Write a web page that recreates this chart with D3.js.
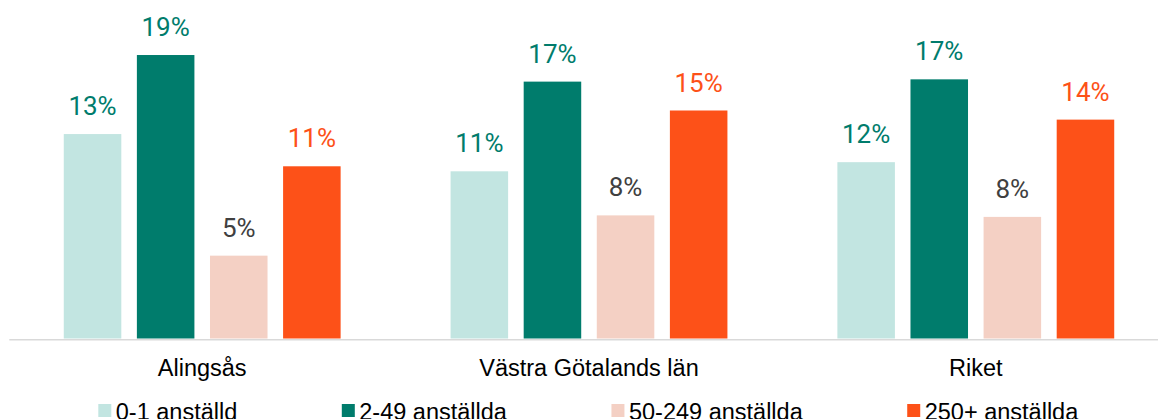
<!DOCTYPE html>
<html>
<head>
<meta charset="utf-8">
<script src="https://cdn.jsdelivr.net/npm/d3@7"></script>
<style>
  body { margin: 0; background: #fff; }
  svg { display: block; }
  .legend text { font-family: "Liberation Sans", Arial, sans-serif; font-size: 23.5px; fill: #000; }
  .lbl { font-family: Roboto, sans-serif; font-size: 26px; }
</style>
</head>
<body>
<div id="chart"></div>
<script>
//-- Data --//
var categories = ["Alingsås", "Västra Götalands län", "Riket"];
var seriesNames = ["0-1 anställd", "2-49 anställda", "50-249 anställda", "250+ anställda"];
var s0_1 = [13.45, 11.0, 11.6];
var s2_49 = [18.65, 16.9, 17.05];
var s50_249 = [5.45, 8.1, 8.0];
var s250 = [11.33, 15.0, 14.4];
var seriesValues = [s0_1, s2_49, s50_249, s250];

var barColors = ["#c2e5e1", "#007c6c", "#f4d0c4", "#fd5118"],
    labelColors = ["#007c6c", "#007c6c", "#404040", "#fd5118"];

//-- SVG --//
var W = 1158, H = 419;
var svg = d3.select("#chart").append("svg")
  .attr("width", W)
  .attr("height", H);

//-- Scales --//
var x0 = d3.scaleBand()
  .domain(categories)
  .range([8.8, 1169.2])
  .paddingInner(0.244)
  .paddingOuter(0.122);
var x1 = d3.scaleBand()
  .domain(d3.range(seriesNames.length))
  .range([0, x0.bandwidth()])
  .paddingInner(0.213)
  .paddingOuter(0.1065);
var y = d3.scaleLinear()
  .domain([0, 20])
  .range([338.5, 34.5]);

var fmt = function(v) { return d3.format(".0f")(v) + "%"; };

//-- Bars --//
var groups = svg.append("g").selectAll("g")
  .data(categories)
  .enter().append("g")
  .attr("transform", function(c) { return "translate(" + x0(c) + ",0)"; });

groups.each(function(c, ci) {
  var g = d3.select(this);
  var rows = seriesValues.map(function(arr, si) { return {s: si, v: arr[ci]}; });
  g.selectAll("rect")
    .data(rows)
    .enter().append("rect")
    .attr("x", function(d) { return x1(d.s); })
    .attr("width", x1.bandwidth())
    .attr("y", function(d) { return y(d.v); })
    .attr("height", function(d) { return y(0) - y(d.v); })
    .style("fill", function(d) { return barColors[d.s]; });
  g.selectAll("text")
    .data(rows)
    .enter().append("text")
    .attr("class", "lbl")
    .attr("x", function(d) { return x1(d.s) + x1.bandwidth() / 2; })
    .attr("y", function(d) { return y(d.v) - 19; })
    .attr("text-anchor", "middle")
    .style("fill", function(d) { return labelColors[d.s]; })
    .text(function(d) { return fmt(d.v); });
});

//-- Category axis --//
var xAxis = d3.axisBottom(x0).tickSize(0).tickSizeOuter(0);
var ax = svg.append("g")
  .attr("transform", "translate(0,339.3)")
  .call(xAxis);
ax.select(".domain").attr("stroke", "#d9d9d9").attr("stroke-width", 1.5);
ax.selectAll("text").attr("dy", null).attr("y", 36.3)
  .style("font-size", "23.5px")
  .style("font-family", "'Liberation Sans', Arial, sans-serif")
  .style("fill", "#000");

//-- Legend --//
var legend = svg.append("g").attr("class", "legend");
var lx = 98.3;
seriesNames.forEach(function(name, i) {
  legend.append("rect")
    .attr("x", lx).attr("y", 404)
    .attr("width", 13).attr("height", 13)
    .style("fill", barColors[i]);
  var t = legend.append("text")
    .attr("x", lx + 17.5).attr("y", 419.5)
    .text(name);
  lx += 17.5 + t.node().getComputedTextLength() + 104.5;
});
</script>
</body>
</html>
